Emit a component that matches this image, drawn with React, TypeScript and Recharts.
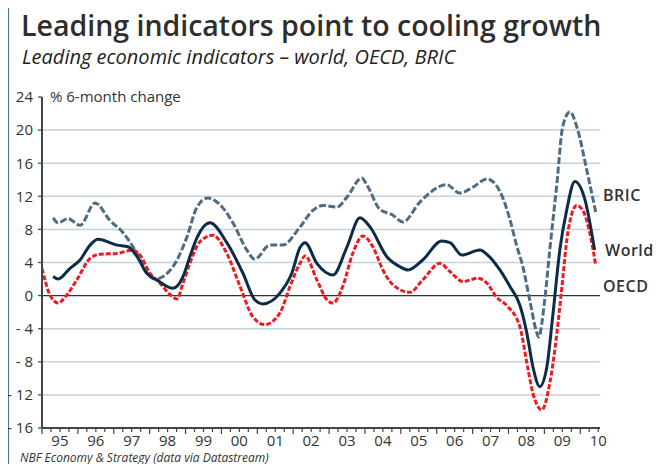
import React from 'react';
import { LineChart, Line, XAxis, YAxis, CartesianGrid, ReferenceLine } from 'recharts';

// year labels along the bottom (mid-year), 1995..2010
const yearLabels = ['95', '96', '97', '98', '99', '00', '01', '02', '03', '04', '05', '06', '07', '08', '09', '10'];
const yTicks = [-16, -12, -8, -4, 0, 4, 8, 12, 16, 20, 24];
const gridValues = [-12, -8, -4, 4, 8, 12, 16, 20];

// BRIC leading indicator, % 6-month change
const bricYears = [1995.31, 1995.45, 1995.72, 1996.06, 1996.48, 1996.89, 1997.26, 1997.65, 1998.01, 1998.15, 1998.65, 1999.04, 1999.32, 1999.62, 2000.04, 2000.32, 2000.71, 2000.93, 2001.35, 2001.71, 2002.19, 2002.55, 2002.83, 2003.22, 2003.5, 2003.91, 2004.05, 2004.42, 2004.75, 2005.06, 2005.53, 2006.28, 2006.64, 2007.01, 2007.4, 2007.76, 2008.04, 2008.23, 2008.4, 2008.59, 2008.79, 2008.84, 2009.01, 2009.15, 2009.35, 2009.51, 2009.71, 2009.93, 2010.18, 2010.43];
const bricValues = [9.4, 8.8, 9.3, 8.5, 11.2, 9.1, 7.6, 5.1, 2.3, 2.0, 3.5, 7.1, 10.7, 11.8, 10.6, 8.8, 5.5, 4.4, 6.1, 6.1, 8.3, 10.3, 10.9, 10.7, 11.9, 14.2, 13.4, 10.4, 9.8, 8.9, 11.3, 13.4, 12.4, 13.1, 14.1, 12.6, 9.2, 6.0, 3.5, -0.5, -4.5, -5.0, -0.5, 5.5, 13.6, 20.4, 22.2, 20.0, 15.2, 10.1];

// World
const worldYears = [1995.31, 1995.45, 1995.78, 1996.06, 1996.34, 1996.56, 1997.09, 1997.4, 1997.65, 1997.92, 1998.2, 1998.65, 1998.93, 1999.12, 1999.32, 1999.68, 2000.15, 2000.6, 2000.93, 2001.16, 2001.63, 2001.96, 2002.19, 2002.33, 2002.66, 2003.11, 2003.5, 2003.86, 2004.14, 2004.61, 2004.97, 2005.2, 2005.61, 2006.14, 2006.37, 2006.7, 2007.2, 2007.42, 2007.76, 2008.04, 2008.32, 2008.51, 2008.68, 2008.87, 2009.07, 2009.23, 2009.43, 2009.62, 2009.85, 2010.13, 2010.4];
const worldValues = [2.3, 2.0, 3.3, 4.3, 6.1, 6.8, 6.1, 5.9, 4.7, 2.7, 1.9, 0.9, 2.3, 4.7, 7.0, 8.8, 6.4, 2.7, -0.5, -1.0, 0.3, 2.7, 5.8, 6.4, 3.9, 2.5, 5.9, 9.4, 8.3, 4.7, 3.5, 3.1, 4.3, 6.6, 6.4, 4.9, 5.5, 4.9, 3.1, 1.1, -1.2, -4.5, -8.6, -11.0, -8.6, -2.6, 5.5, 10.3, 13.8, 11.6, 5.5];

// OECD
const oecdYears = [1995.0, 1995.22, 1995.45, 1995.64, 1995.97, 1996.34, 1996.62, 1997.09, 1997.53, 1997.73, 1998.01, 1998.29, 1998.57, 1998.76, 1998.93, 1999.12, 1999.4, 1999.76, 2000.15, 2000.52, 2000.88, 2001.21, 2001.63, 2001.91, 2002.19, 2002.33, 2002.66, 2002.94, 2003.11, 2003.38, 2003.66, 2003.94, 2004.22, 2004.5, 2004.78, 2005.25, 2005.61, 2006.09, 2006.37, 2006.73, 2007.15, 2007.4, 2007.67, 2007.95, 2008.32, 2008.51, 2008.68, 2008.93, 2009.15, 2009.35, 2009.49, 2009.65, 2009.9, 2010.07, 2010.27, 2010.43];
const oecdValues = [3.3, 0.1, -0.9, -0.2, 1.9, 4.5, 5.0, 5.1, 5.5, 4.9, 2.7, 1.5, 0.1, -0.4, 1.5, 3.9, 6.5, 7.3, 5.1, 1.1, -2.6, -3.5, -2.1, 1.1, 3.9, 4.8, 1.9, -0.5, -0.9, 1.1, 5.1, 7.2, 5.9, 3.1, 1.3, 0.4, 1.9, 3.9, 2.9, 1.7, 2.1, 1.5, -0.2, -1.2, -3.8, -8.1, -11.8, -13.8, -10.6, -4.5, 1.1, 7.5, 10.9, 10.3, 7.5, 3.7];

type Row = { t: number; bric?: number; world?: number; oecd?: number };

const rows: Row[] = [
  ...bricYears.map((t, i) => ({ t, bric: bricValues[i] })),
  ...worldYears.map((t, i) => ({ t, world: worldValues[i] })),
  ...oecdYears.map((t, i) => ({ t, oecd: oecdValues[i] })),
].sort((a, b) => a.t - b.t);

// quarterly tick marks, labels sit at mid-year
const xTicks: number[] = [];
yearLabels.forEach((_, i) => {
  [0, 0.25, 0.5, 0.75].forEach((q) => {
    if (i < yearLabels.length - 1 || q <= 0.5) xTicks.push(1995 + i + q);
  });
});

const FONT = '"Open Sans", sans-serif';

const XTick = ({ x, y, payload }: any) => {
  const v = payload.value as number;
  const frac = v - Math.floor(v);
  const isYear = frac < 0.01;
  const isMid = Math.abs(frac - 0.5) < 0.01;
  const label = yearLabels[Math.floor(v) - 1995];
  return (
    <g>
      <line x1={x} x2={x} y1={y} y2={y + (isYear ? 6 : 4)} stroke="#444" strokeWidth={1.2} />
      {isMid && (
        <text x={x} y={y + 18} textAnchor="middle" fontSize={15} fill="#333" fontFamily={FONT}>
          {label}
        </text>
      )}
    </g>
  );
};

const fmtY = (v: number) => (v < 0 ? `- ${-v}` : `${v}`);

const seriesLabel: React.CSSProperties = {
  position: 'absolute',
  left: 603,
  fontSize: 16,
  fontWeight: 600,
  lineHeight: '16px',
  color: '#333',
  letterSpacing: 0.5,
};

export default function App() {
  return (
    <div style={{ position: 'relative', width: 662, height: 472, margin: -8, background: '#fff', overflow: 'hidden', fontFamily: FONT }}>
      <div style={{ position: 'absolute', left: 7, top: 2, width: 649, height: 490, border: '2px solid #4d7190' }} />
      <div style={{ position: 'absolute', left: 21, top: 11, fontSize: 28.5, lineHeight: '28.5px', fontWeight: 600, color: '#2e2e2e', whiteSpace: 'nowrap' }}>
        Leading indicators point to cooling growth
      </div>
      <div style={{ position: 'absolute', left: 22, top: 47, fontSize: 20, lineHeight: '20px', fontStyle: 'italic', color: '#222', whiteSpace: 'nowrap' }}>
        Leading economic indicators – world, OECD, BRIC
      </div>
      <div style={{ position: 'absolute', left: 50, top: 89, fontSize: 15, lineHeight: '15px', color: '#333', whiteSpace: 'nowrap' }}>
        % 6-month change
      </div>

      <div style={{ position: 'absolute', left: 0, top: 0 }}>
        <LineChart width={662} height={472} data={rows} margin={{ top: 97, right: 62, bottom: 14, left: 12 }}>
          <CartesianGrid vertical={false} horizontalValues={gridValues} stroke="#c6d2dc" strokeWidth={1.5} />
          <ReferenceLine y={0} stroke="#333" strokeWidth={1.2} />
          <XAxis
            dataKey="t"
            type="number"
            domain={[1995, 2010.55]}
            allowDataOverflow
            ticks={xTicks}
            interval={0}
            tick={<XTick />}
            tickLine={false}
            tickSize={0}
            tickMargin={0}
            height={30}
            axisLine={{ stroke: '#444', strokeWidth: 2 }}
          />
          <YAxis
            type="number"
            domain={[-16, 24]}
            ticks={yTicks}
            interval={0}
            width={30}
            tickFormatter={fmtY}
            tick={{ fontSize: 15, fill: '#333', fontFamily: FONT }}
            tickSize={4}
            tickMargin={5}
            tickLine={{ stroke: '#444', strokeWidth: 1.2 }}
            axisLine={{ stroke: '#444', strokeWidth: 2 }}
          />
          <Line dataKey="bric" type="monotone" stroke="#4f6d82" strokeWidth={3} strokeDasharray="7 2.5" dot={false} connectNulls isAnimationActive={false} />
          <Line dataKey="oecd" type="monotone" stroke="#ec1c24" strokeWidth={3} strokeDasharray="5 2" dot={false} connectNulls isAnimationActive={false} />
          <Line dataKey="world" type="monotone" stroke="#0c2c47" strokeWidth={3} dot={false} connectNulls isAnimationActive={false} />
        </LineChart>
      </div>

      <div style={{ ...seriesLabel, top: 187 }}>BRIC</div>
      <div style={{ ...seriesLabel, top: 242, left: 605 }}>World</div>
      <div style={{ ...seriesLabel, top: 278 }}>OECD</div>

      <div style={{ position: 'absolute', left: 20, top: 452, fontSize: 12, lineHeight: '12px', fontStyle: 'italic', color: '#333', whiteSpace: 'nowrap' }}>
        NBF Economy &amp; Strategy (data via Datastream)
      </div>
    </div>
  );
}
